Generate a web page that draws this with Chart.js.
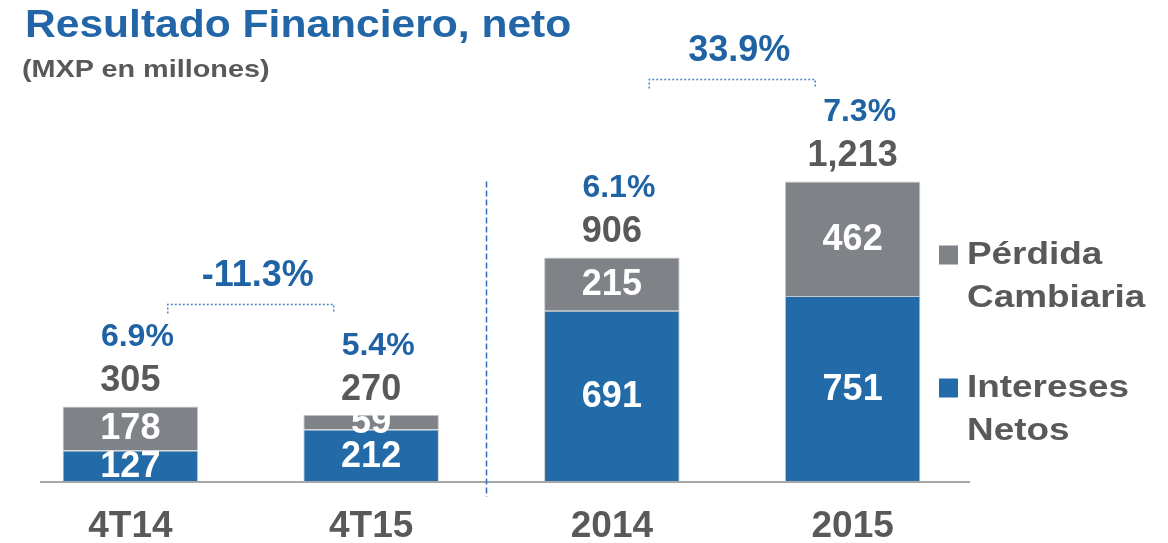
<!DOCTYPE html>
<html>
<head>
<meta charset="utf-8">
<script src="https://cdn.jsdelivr.net/npm/chart.js@4"></script>
<style>
  body { margin: 0; background: #fff; }
  #wrap { position: relative; width: 1168px; height: 543px; }
  .title { position: absolute; left: 25px; top: 5px; font: bold 38px "Liberation Sans", Arial, sans-serif; color: #2266a8; line-height: 1; white-space: nowrap; transform: scaleX(1.12); transform-origin: left top; }
  .sub { position: absolute; left: 22px; top: 57px; font: bold 24px "Liberation Sans", Arial, sans-serif; color: #595959; line-height: 1; white-space: nowrap; transform: scaleX(1.2); transform-origin: left top; }
</style>
</head>
<body>
<div id="wrap">
  <canvas id="chart" width="1168" height="543"></canvas>
  <div class="title">Resultado Financiero, neto</div>
  <div class="sub">(MXP en millones)</div>
</div>
<script>
// 데이터
const categories = ['4T14', '4T15', '2014', '2015'];
const intereses = [127, 212, 691, 751];
const perdida = [178, 59, 215, 462];
const totals = [305, 270, 906, 1213];
const margins = ['6.9%', '5.4%', '6.1%', '7.3%'];
const growthPairs = [[0, 1], [2, 3]];
const growthLabels = ['-11.3%', '33.9%'];

const FONT = '"Liberation Sans", Arial, sans-serif';
const BLUE = '#236aa8';
const GRAY = '#7f8387';
const TEXT_BLUE = '#1f63a5';
const TEXT_GRAY = '#595959';

// 막대 위/안 라벨, 구분선, 범례
const annotations = {
    id: 'annotations',
    afterDatasetsDraw(chart) {
        const ctx = chart.ctx;
        const area = chart.chartArea;
        const blueMeta = chart.getDatasetMeta(0);
        const grayMeta = chart.getDatasetMeta(1);

        ctx.save();

        // x축 선
        ctx.strokeStyle = '#a6a6a6';
        ctx.lineWidth = 2;
        ctx.beginPath();
        ctx.moveTo(area.left + 30, area.bottom);
        ctx.lineTo(area.right - 3, area.bottom);
        ctx.stroke();

        // 분기 / 연간 구분선
        const sepX = (blueMeta.data[1].x + blueMeta.data[2].x) / 2 - 5;
        ctx.strokeStyle = '#2f6db0';
        ctx.lineWidth = 1.5;
        ctx.setLineDash([6, 3]);
        ctx.beginPath();
        ctx.moveTo(sepX, grayMeta.data[3].y);
        ctx.lineTo(sepX, area.bottom + 15);
        ctx.stroke();
        ctx.setLineDash([]);

        ctx.textAlign = 'center';
        ctx.textBaseline = 'middle';

        // 막대 안 값
        ctx.fillStyle = '#fff';
        ctx.font = 'bold 36px ' + FONT;
        [blueMeta, grayMeta].forEach((meta, d) => {
            const values = d === 0 ? intereses : perdida;
            meta.data.forEach((bar, i) => {
                ctx.fillText(values[i], bar.x, (bar.y + bar.base) / 2 + 1);
            });
        });

        // 합계와 마진
        grayMeta.data.forEach((bar, i) => {
            ctx.fillStyle = TEXT_GRAY;
            ctx.font = 'bold 36px ' + FONT;
            ctx.fillText(totals[i].toLocaleString('en-US'), bar.x, bar.y - 25);
            ctx.fillStyle = TEXT_BLUE;
            ctx.font = 'bold 32px ' + FONT;
            ctx.fillText(margins[i], bar.x + 7, bar.y - 69);
        });

        // 성장률 괄호
        growthPairs.forEach((pair, k) => {
            const a = grayMeta.data[pair[0]];
            const b = grayMeta.data[pair[1]];
            const mid = (a.x + b.x) / 2;
            const y = Math.min(a.y, b.y) - 102;
            ctx.strokeStyle = '#4a86c5';
            ctx.lineWidth = 1.5;
            ctx.setLineDash([2, 2]);
            ctx.beginPath();
            ctx.moveTo(mid - 83, y + 9);
            ctx.lineTo(mid - 83, y);
            ctx.lineTo(mid + 83, y);
            ctx.lineTo(mid + 83, y + 9);
            ctx.stroke();
            ctx.setLineDash([]);
            ctx.fillStyle = TEXT_BLUE;
            ctx.font = 'bold 36px ' + FONT;
            ctx.fillText(growthLabels[k], mid + 7, y - 28);
        });

        // 범례
        const lx = area.right - 34;
        const items = [
            { color: chart.data.datasets[1].backgroundColor, lines: chart.data.datasets[1].label.split(' '), y: 255 },
            { color: chart.data.datasets[0].backgroundColor, lines: chart.data.datasets[0].label.split(' '), y: 388 }
        ];
        ctx.textAlign = 'left';
        ctx.font = 'bold 31px ' + FONT;
        items.forEach(item => {
            ctx.fillStyle = item.color;
            ctx.fillRect(lx, item.y - 9.5, 19, 19);
            ctx.fillStyle = TEXT_GRAY;
            item.lines.forEach((line, j) => {
                ctx.save();
                ctx.translate(lx + 28, item.y + j * 43);
                ctx.scale(1.19, 1);
                ctx.fillText(line, 0, 0);
                ctx.restore();
            });
        });

        ctx.restore();
    }
};

new Chart(document.getElementById('chart'), {
    type: 'bar',
    data: {
        labels: categories,
        datasets: [{
            label: 'Intereses Netos',
            data: intereses,
            backgroundColor: BLUE,
            borderColor: '#c8c8c8',
            borderWidth: 1,
            barPercentage: 0.563,
            categoryPercentage: 1
        }, {
            label: 'Pérdida Cambiaria',
            data: perdida,
            backgroundColor: GRAY,
            borderColor: '#c8c8c8',
            borderWidth: 1,
            barPercentage: 0.563,
            categoryPercentage: 1
        }]
    },
    options: {
        responsive: false,
        animation: false,
        layout: {
            padding: { left: 10, right: 195, top: 36, bottom: 0 }
        },
        plugins: {
            legend: { display: false },
            tooltip: { enabled: false }
        },
        scales: {
            x: {
                stacked: true,
                grid: { display: false, drawTicks: false },
                border: { display: false },
                ticks: {
                    color: TEXT_GRAY,
                    padding: 23,
                    font: { family: FONT, size: 37, weight: 'bold' }
                },
                afterFit: scale => { scale.height = 61; }
            },
            y: {
                stacked: true,
                display: false,
                min: 0,
                max: 1800
            }
        }
    },
    plugins: [annotations]
});
</script>
</body>
</html>
